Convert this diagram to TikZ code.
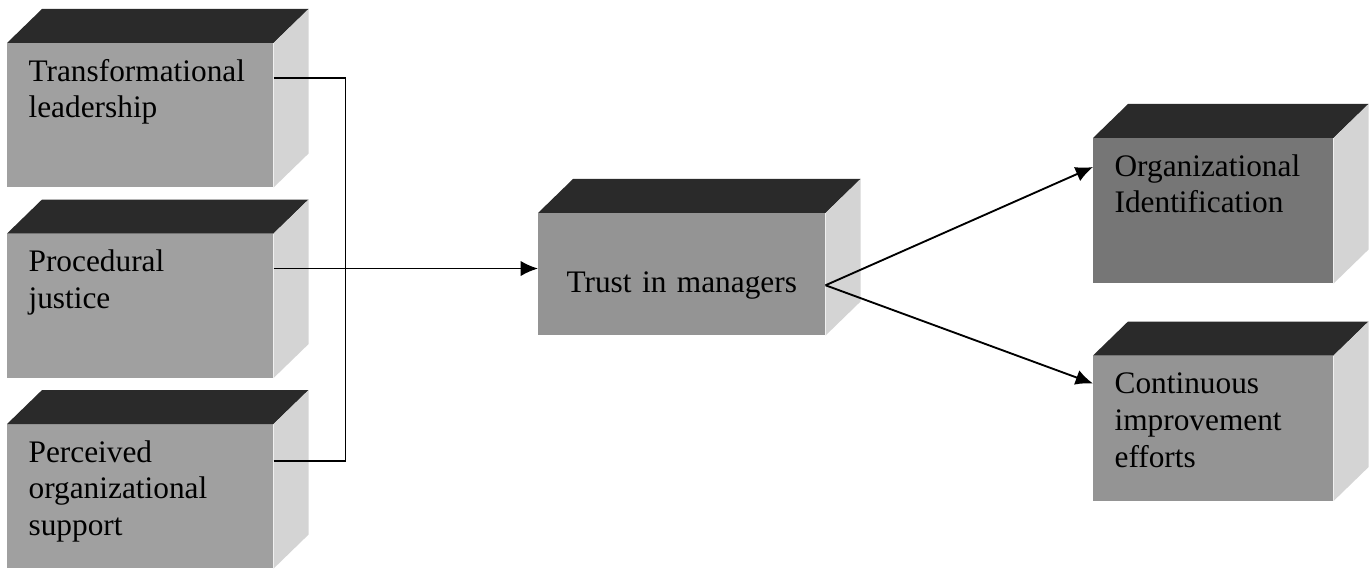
\documentclass[tikz,border=0pt]{standalone}
\usepackage{fontspec}
\setmainfont{Liberation Serif}
\definecolor{cubetop}{RGB}{42, 42, 42}
\definecolor{cubefront}{RGB}{160, 160, 160}
\definecolor{cubemid}{RGB}{148, 148, 148}
\definecolor{cubedark}{RGB}{118, 118, 118}
\definecolor{cubeside}{RGB}{212, 212, 212}
\usetikzlibrary{arrows.meta, positioning, calc}
\tikzset{
	cube/.style={rectangle, fill=cubefront, inner xsep=16pt, inner ysep=0pt, align=left, text width=167.5pt, text height=28.5pt, text depth=79.5pt, font=\fontsize{23.5}{27.5}\selectfont},
	rcube/.style={cube, text width=148pt, text depth=80.25pt},
	midcube/.style={cube, fill=cubemid, align=center, text width=183.25pt, text height=59.25pt, text depth=32.25pt},
	topface/.style={fill=cubetop},
	sideface/.style={fill=cubeside},
	link/.style={line width=1.4pt, draw=black},
	arrow/.style={link, -{Latex[length=13pt, width=11.5pt]}},
}
\begin{document}
\begin{tikzpicture}[x=0.75pt, y=-0.75pt, node distance=34.5pt and 0pt]
	\useasboundingbox (0,0) rectangle (1372,570);
	% antecedents
	\node[cube, anchor=north west] (tl) at (7,43) {Transformational\\leadership};
	\node[cube, below=of tl] (pj) {Procedural\\justice};
	\node[cube, below=of pj] (pos) {Perceived\\organizational\\support};
	% mediator and outcomes
	\node[midcube, anchor=north west] (tm) at (538,213) {Trust in managers};
	\node[rcube, fill=cubedark, anchor=north west] (oi) at (1093,138) {Organizational\\Identification};
	\node[rcube, fill=cubemid, below=54pt of oi] (ci) {Continuous\\improvement\\efforts};
	% top and side faces of the boxes
	\foreach \n in {tl,pj,pos,tm,oi,ci}{
		\fill[topface] (\n.north west) -- ++(35,-34) -- ($(\n.north east)+(35,-34)$) -- (\n.north east) -- cycle;
		\fill[sideface] (\n.north east) -- ++(35,-34) -- ($(\n.south east)+(35,-34)$) -- (\n.south east) -- cycle;
	}
	\coordinate (join) at ($(pj.north east)+(72,35)$);
	\coordinate (fork) at ($(tm.east)+(0,11)$);
	\draw[link] ($(tl.north east)+(0,35)$) -| (join);
	\draw[link] ($(pos.north east)+(0,37)$) -| (join);
	\draw[arrow] ($(pj.north east)+(0,35)$) -- (join -| tm.west);
	\draw[arrow] (fork) -- ($(oi.north west)+(0,29)$);
	\draw[arrow] (fork) -- ($(ci.north west)+(0,28)$);
\end{tikzpicture}
\end{document}
